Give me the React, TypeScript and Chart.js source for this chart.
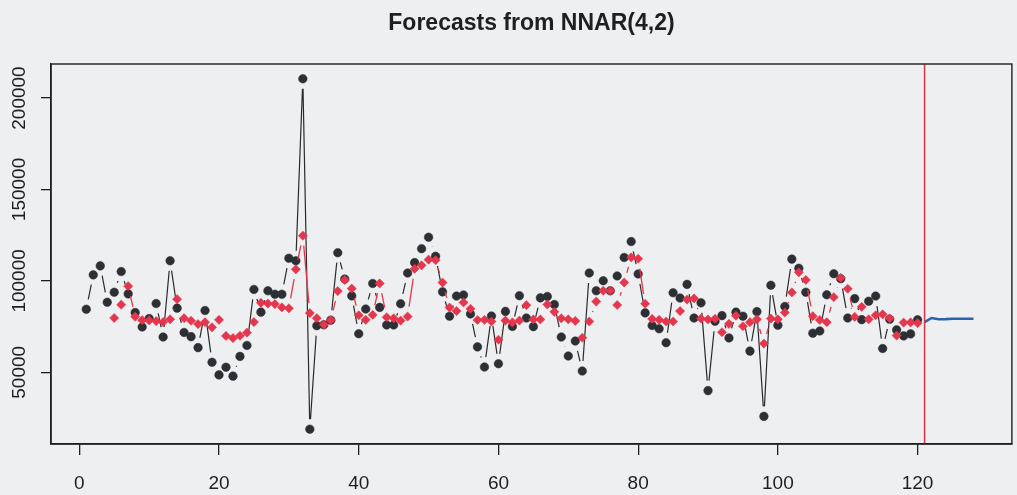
import { useEffect, useRef } from "react";
import { Chart, registerables } from "chart.js";

Chart.register(...registerables);

// Observed series, t = 1..120
const observedValues = [
  84500, 103300, 108200, 88300, 93800, 105100, 92900, 82700, 74800, 79400,
  87600, 69300, 111000, 85100, 71800, 69500, 63500, 83800, 55500, 48600,
  52800, 47900, 58700, 64700, 95300, 82900, 94600, 92700, 92700, 112400,
  111000, 210500, 18900, 75500, 76000, 78500, 115400, 101000, 91800, 71100,
  84600, 98600, 85500, 75900, 75900, 87500, 104300, 110000, 117600, 123900,
  113500, 94000, 80700, 91700, 92300, 81900, 63900, 52900, 80800, 54700,
  83300, 75100, 91900, 79700, 75000, 90700, 91500, 87100, 69300, 58900,
  67100, 50700, 104300, 94600, 100100, 94600, 102700, 112800, 121500, 103800,
  82500, 75600, 73800, 66200, 93500, 90600, 98100, 79700, 88000, 40000,
  77900, 81000, 68800, 82900, 80700, 61600, 83200, 25900, 97600, 75700,
  86000, 111900, 106900, 93800, 71400, 72600, 92400, 103900, 101200, 79700,
  90300, 78800, 88900, 91700, 63000, 79000, 73200, 69900, 71000, 78700,
];

// One-step fitted values of the NNAR(4,2) model, t = 5..120
const fittedStart = 5;
const fittedValues = [
  79700, 87000, 97100, 80400, 78500, 78400, 78000, 77500, 79000, 90000,
  79600, 78200, 76400, 77400, 74600, 78700, 69900, 68700, 70000, 71700,
  77500, 88000, 87600, 87300, 85500, 85000, 106300, 124700, 82400, 79600,
  76100, 78500, 94400, 100500, 95800, 81200, 78700, 81400, 98600, 80100,
  79500, 78300, 80500, 106600, 108500, 111600, 111300, 99100, 85400, 83500,
  88200, 84700, 78600, 78700, 77800, 67800, 78300, 77300, 78300, 86700,
  78900, 78900, 87100, 83100, 79500, 79000, 78100, 68900, 77800, 88700,
  94600, 94600, 86800, 99100, 112900, 112100, 87500, 79200, 78700, 77800,
  77800, 83500, 89800, 90400, 79400, 78900, 79300, 71900, 76500, 81000,
  75200, 77400, 79000, 65700, 79400, 79000, 82700, 93700, 104700, 100500,
  80700, 78600, 77400, 91100, 101600, 95700, 80300, 85800, 79000, 81200,
  81700, 79500, 70100, 77200, 77300, 76900,
];

// Point forecasts, t = 121..128
const forecastStart = 121;
const forecastValues = [77400, 79700, 79000, 79100, 79300, 79300, 79300, 79300];

const xTickValues = [0, 20, 40, 60, 80, 100, 120];
const yTickValues = [50000, 100000, 150000, 200000];
const xRange = [-4.05, 133.5];
const yRange = [10800, 218600];
const titleText = "Forecasts from NNAR(4,2)";

const PAPER = "#eeeff1";
const INK = "#1f1f1f";
const AXIS_FONT = '"Liberation Sans", Arial, sans-serif';

// R-style "type = b" lines: segments stop short of each point
const gappedLines = {
  id: "gappedLines",
  beforeDatasetDraw(chart: any, args: any) {
    const ds = chart.data.datasets[args.index] as any;
    if (!ds.gapLine) return;
    const pts = args.meta.data;
    const ctx = chart.ctx;
    const { color, width, gap } = ds.gapLine;
    ctx.save();
    ctx.beginPath();
    ctx.rect(chart.chartArea.left, chart.chartArea.top, chart.chartArea.width, chart.chartArea.height);
    ctx.clip();
    ctx.strokeStyle = color;
    ctx.lineWidth = width;
    ctx.beginPath();
    for (let i = 1; i < pts.length; i++) {
      const a = pts[i - 1];
      const b = pts[i];
      const dx = b.x - a.x;
      const dy = b.y - a.y;
      const len = Math.hypot(dx, dy);
      if (len <= 2 * gap) continue;
      const ux = dx / len;
      const uy = dy / len;
      ctx.moveTo(a.x + ux * gap, a.y + uy * gap);
      ctx.lineTo(b.x - ux * gap, b.y - uy * gap);
    }
    ctx.stroke();
    ctx.restore();
  },
};

const decorations = {
  id: "decorations",
  beforeDraw(chart: any) {
    const ctx = chart.ctx;
    ctx.save();
    ctx.fillStyle = PAPER;
    ctx.fillRect(0, 0, chart.width, chart.height);
    ctx.restore();
  },
  afterDatasetsDraw(chart: any) {
    const { ctx, chartArea } = chart;
    const xs = chart.scales.x;
    const x = xs.getPixelForValue(forecastStart);
    ctx.save();
    ctx.strokeStyle = "#d93343";
    ctx.lineWidth = 1.5;
    ctx.beginPath();
    ctx.moveTo(x, chartArea.top);
    ctx.lineTo(x, chartArea.bottom);
    ctx.stroke();
    ctx.restore();
  },
  afterDraw(chart: any) {
    const { ctx, chartArea } = chart;
    ctx.save();
    // plot frame
    ctx.strokeStyle = INK;
    ctx.lineWidth = 1.4;
    ctx.strokeRect(chartArea.left, chartArea.top, chartArea.right - chartArea.left, chartArea.bottom - chartArea.top);

    // title
    ctx.fillStyle = INK;
    ctx.font = `bold 23px ${AXIS_FONT}`;
    ctx.textAlign = "center";
    ctx.textBaseline = "alphabetic";
    ctx.fillText(titleText, (chartArea.left + chartArea.right) / 2, 30);

    // vertical y tick labels, reading upward
    const ys = chart.scales.y;
    ctx.font = `19px ${AXIS_FONT}`;
    for (const v of yTickValues) {
      const y = ys.getPixelForValue(v);
      ctx.save();
      ctx.translate(24.5, y);
      ctx.rotate(-Math.PI / 2);
      ctx.textAlign = "center";
      ctx.textBaseline = "alphabetic";
      ctx.fillText(String(v), 0, 0);
      ctx.restore();
    }
    ctx.restore();
  },
};

export default function App() {
  const canvasRef = useRef<HTMLCanvasElement | null>(null);

  useEffect(() => {
    const canvas = canvasRef.current;
    if (!canvas) return;

    const observed = observedValues.map((y, i) => ({ x: i + 1, y }));
    const fitted = fittedValues.map((y, i) => ({ x: fittedStart + i, y }));
    const forecast = forecastValues.map((y, i) => ({ x: forecastStart + i, y }));

    const chart = new Chart(canvas, {
      type: "scatter",
      data: {
        datasets: [
          {
            label: "Forecast",
            data: forecast,
            showLine: true,
            borderColor: "#2b62ad",
            borderWidth: 2.6,
            pointRadius: 0,
            order: 1,
          } as any,
          {
            label: "Fitted",
            data: fitted,
            showLine: false,
            pointStyle: "rectRot",
            pointRadius: 4.6,
            pointBorderWidth: 0.5,
            backgroundColor: "#e4364c",
            borderColor: "#e4364c",
            gapLine: { color: "#e4364c", width: 1.3, gap: 10 },
            order: 2,
          } as any,
          {
            label: "Observed",
            data: observed,
            showLine: false,
            pointStyle: "circle",
            pointRadius: 4.3,
            pointBorderWidth: 0.5,
            backgroundColor: "#2c2f33",
            borderColor: "#2c2f33",
            gapLine: { color: "#2a2a2a", width: 1.2, gap: 10 },
            order: 3,
          } as any,
        ],
      },
      options: {
        animation: false,
        responsive: false,
        layout: { padding: { top: 64, right: 4, left: 0, bottom: 0 } },
        plugins: {
          legend: { display: false },
          tooltip: { enabled: false },
          title: { display: false },
        },
        scales: {
          x: {
            type: "linear",
            min: xRange[0],
            max: xRange[1],
            afterBuildTicks: (s: any) => {
              s.ticks = xTickValues.map((value) => ({ value }));
            },
            afterFit: (s: any) => {
              s.height = 51;
            },
            grid: {
              drawOnChartArea: false,
              drawTicks: true,
              tickLength: 11,
              color: INK,
              lineWidth: 1.3,
            },
            border: { display: true, color: INK, width: 1.4 },
            ticks: {
              color: INK,
              font: { family: AXIS_FONT, size: 19 },
              padding: 17,
              maxRotation: 0,
              autoSkip: false,
            },
          },
          y: {
            type: "linear",
            min: yRange[0],
            max: yRange[1],
            afterBuildTicks: (s: any) => {
              s.ticks = yTickValues.map((value) => ({ value }));
            },
            afterFit: (s: any) => {
              s.width = 51;
            },
            grid: {
              drawOnChartArea: false,
              drawTicks: true,
              tickLength: 10,
              color: INK,
              lineWidth: 1.3,
            },
            border: { display: true, color: INK, width: 1.4 },
            ticks: {
              color: "rgba(0,0,0,0)",
              font: { family: AXIS_FONT, size: 19 },
              autoSkip: false,
            },
          },
        },
      },
      plugins: [gappedLines, decorations],
    });

    return () => chart.destroy();
  }, []);

  return (
    <div style={{ position: "fixed", left: 0, top: 0, width: 1017, height: 495, background: PAPER }}>
      <canvas ref={canvasRef} width={1017} height={495} style={{ display: "block" }} />
    </div>
  );
}
